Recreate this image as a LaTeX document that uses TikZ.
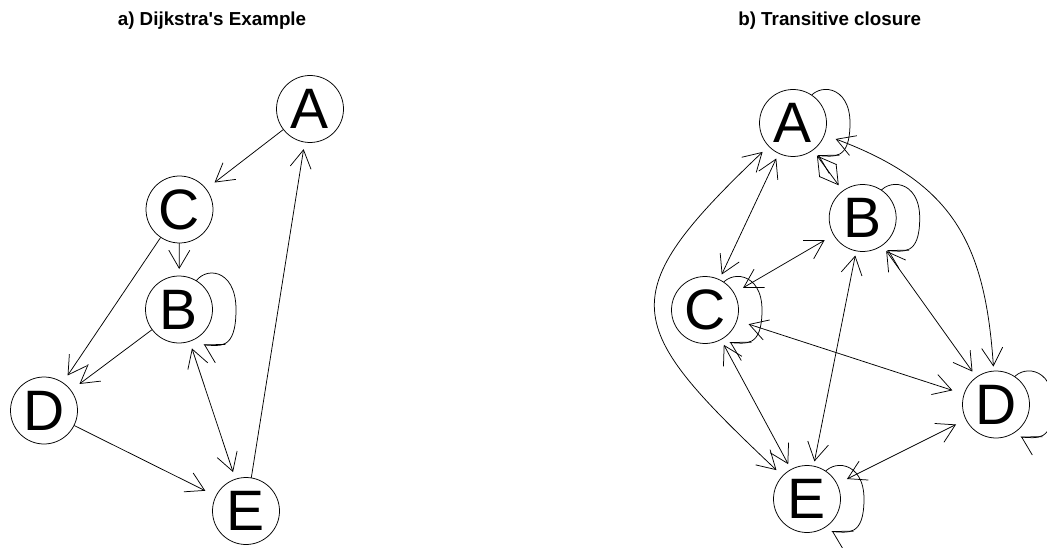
\documentclass[tikz,border=0pt]{standalone}
\usepackage{fontspec}
\setmainfont{Liberation Sans}[Ligatures=TeXOff]
\usetikzlibrary{arrows.meta,shapes.geometric,calc,backgrounds}
\tikzset{
  vtx/.style={circle,draw,fill=white,minimum size=67pt,inner sep=0pt,outer sep=0pt,line width=0.75pt,font=\fontsize{57pt}{60pt}\selectfont},
  clipa/.style={ellipse,minimum width=94pt,minimum height=81pt,inner sep=0pt,outer sep=0pt},
  clipb/.style={ellipse,minimum width=94pt,minimum height=76pt,inner sep=0pt,outer sep=0pt},
  edge/.style={line width=0.75pt},
  arr/.style={edge,-{Straight Barb[length=18pt,width=21pt]}},
  dbl/.style={edge,{Straight Barb[length=18pt,width=21pt]}-{Straight Barb[length=18pt,width=21pt]}},
  ttl/.style={font=\fontsize{18.8pt}{22pt}\selectfont\bfseries,anchor=base,inner sep=0pt},
}
\newcommand\selfloop[2]{%
  \draw[arr] ($(#1)+(15,{-25*#2})$) .. controls ($(#1)+(24,{-44*#2})$) and ($(#1)+(57,{-42*#2})$) .. ($(#1)+(57,0)$)
    .. controls ($(#1)+(57,{42*#2})$) and ($(#1)+(40,{36*#2})$) .. ($(#1)+(25.9,{35*#2+0.5})$) -- ($(#1)+(25,{35*#2})$);}
\begin{document}
\begin{tikzpicture}[x=1pt,y=-1pt]
\useasboundingbox (0,0) rectangle (1047,548);
% titles
\node[ttl] (ta) at (212,25.7) {a) Dijkstra's Example};
\node[ttl] (tb) at (829.7,25.7) {b) Transitive closure};
% panel a
\node[vtx] (aA) at (310,109) {A};
\node[vtx] (aC) at (179.5,209.5) {C};
\node[vtx] (aB) at (179,309.5) {B};
\node[vtx] (aD) at (44,410.5) {D};
\node[vtx] (aE) at (246,511) {E};
\foreach \n in {aA,aB,aC,aD,aE} \node[clipa] (\n-t) at (\n) {};
% panel b
\node[vtx] (bA) at (793,123) {A};
\node[vtx] (bB) at (862.7,218) {B};
\node[vtx] (bC) at (705,310) {C};
\node[vtx] (bD) at (996,404.5) {D};
\node[vtx] (bE) at (807,499) {E};
\foreach \n in {bA,bB,bC,bD,bE} \node[clipb] (\n-t) at (\n) {};
\begin{scope}[on background layer]
  \draw[arr] (aA) -- (aC-t);
  \draw[arr] (aC) -- (aB-t);
  \draw[arr] (aC) -- (aD-t);
  \draw[arr] (aB) -- (aD-t);
  \draw[dbl] (aB-t) -- (aE-t);
  \draw[arr] (aD) -- (aE-t);
  \draw[arr] (aE) -- (aA-t);
  \selfloop{aB}{1}
  \draw[dbl] (bA-t) -- (bB-t);
  \draw[dbl] (bA-t) -- (bC-t);
  \draw[dbl] (bB-t) -- (bC-t);
  \draw[dbl] (bB-t) -- (bD-t);
  \draw[dbl] (bB-t) -- (bE-t);
  \draw[dbl] (bC-t) -- (bD-t);
  \draw[dbl] (bC-t) -- (bE-t);
  \draw[dbl] (bD-t) -- (bE-t);
  \draw[dbl] (bA-t) .. controls ($(bA)+(160,60)$) and ($(bD)+(-11,-162)$) .. (bD-t);
  \draw[dbl] (bA-t) .. controls ($(bA)+(-183,174)$) and ($(bE)+(-184,-174)$) .. (bE-t);
  \foreach \n in {bA,bB,bC,bD,bE} {\selfloop{\n}{0.92}}
\end{scope}
\end{tikzpicture}
\end{document}
